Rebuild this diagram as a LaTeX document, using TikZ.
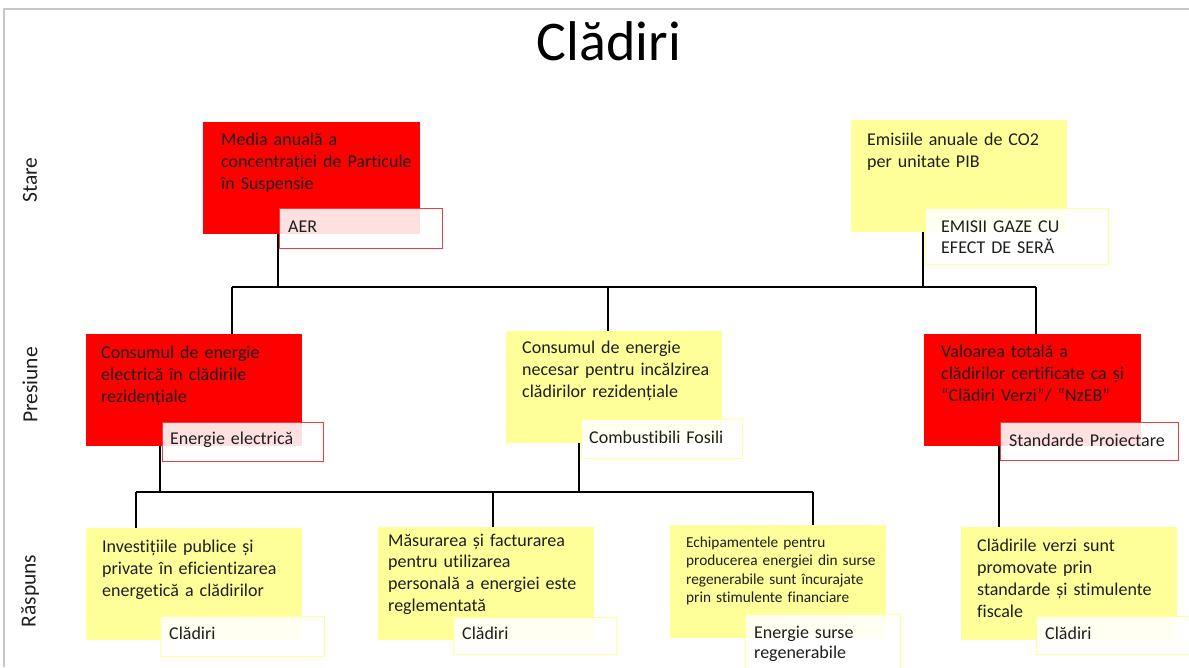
\documentclass[tikz,border=0pt]{standalone}
\usepackage{fontspec}
\setmainfont{Carlito}[Ligatures=NoCommon]
\usetikzlibrary{backgrounds}
\definecolor{boxred}{HTML}{FF0000}
\definecolor{boxyel}{HTML}{FFFF99}
\definecolor{tagred}{HTML}{F03C3C}
\definecolor{tagyel}{HTML}{FFFF9C}
\definecolor{framegray}{HTML}{C6C6C6}
\definecolor{ink}{HTML}{1E1E1E}
\begin{document}
\begin{tikzpicture}[x=1pt,y=-1pt,
  box/.style={anchor=north west, inner sep=0pt, outer sep=0pt, draw=none},
  redbox/.style={box, fill=boxred},
  yelbox/.style={box, fill=boxyel},
  tagbase/.style={anchor=north west, inner sep=0pt, outer sep=0pt, fill=white, fill opacity=0.88, line width=1pt},
  redtag/.style={tagbase, draw=tagred},
  yeltag/.style={tagbase, draw=tagyel},
  txt/.style={anchor=base west, inner sep=0pt, text=ink, text width=260pt, align=left, font=\fontsize{18}{22}\selectfont},
  smalltxt/.style={txt, font=\fontsize{15.3}{18.5}\selectfont},
  tagtxt/.style={txt, font=\fontsize{18}{21}\selectfont},
  side/.style={rotate=90, inner sep=0pt, text=ink, font=\fontsize{21.5}{24}\selectfont},
  conn/.style={draw=black, line width=1.8pt}
]
\useasboundingbox (0,0) rectangle (1189,667);
\draw[framegray, line width=2pt] (3.5,667) -- (3.5,8.5) -- (1189,8.5);

\node[anchor=base, inner sep=0pt, text=black, font=\fontsize{56}{60}\selectfont] (title) at (609,60) {Clădiri};

\node[side] (lstare) at (30,180) {Stare};
\node[side] (lpres) at (30,385) {Presiune};
\node[side] (lrasp) at (30,591) {Răspuns};

% boxes
\node[redbox, minimum width=217pt, minimum height=112pt] (b1) at (203,122) {};
\node[yelbox, minimum width=216pt, minimum height=112pt] (b2) at (851,120) {};
\node[redbox, minimum width=216pt, minimum height=112pt] (b3) at (86,334) {};
\node[yelbox, minimum width=216pt, minimum height=112pt] (b4) at (506,331) {};
\node[redbox, minimum width=217pt, minimum height=112pt] (b5) at (924,334) {};
\node[yelbox, minimum width=216pt, minimum height=112pt] (b6) at (86,528) {};
\node[yelbox, minimum width=216pt, minimum height=113pt] (b7) at (378,527) {};
\node[yelbox, minimum width=216pt, minimum height=113pt] (b8) at (670,525) {};
\node[yelbox, minimum width=216pt, minimum height=113pt] (b9) at (961,527) {};

% box texts
\node[txt] (x1) at (221,145) {Media anuală a\\concentrației de Particule\\în Suspensie};
\node[txt] (x2) at (867,145) {Emisiile anuale de CO2\\per unitate PIB};
\node[txt] (x3) at (101,358) {Consumul de energie\\electrică în clădirile\\rezidențiale};
\node[txt] (x4) at (522,353) {Consumul de energie\\necesar pentru incălzirea\\clădirilor rezidențiale};
\node[txt] (x5) at (941,357) {Valoarea totală a\\clădirilor certificate ca și\\“Clădiri Verzi”/ “NzEB”};
\node[txt] (x6) at (102,552) {Investițiile publice și\\private în eficientizarea\\energetică a clădirilor};
\node[txt, font=\fontsize{18}{21.7}\selectfont] (x7) at (388,546) {Măsurarea și facturarea\\pentru utilizarea\\personală a energiei este\\reglementată};
\node[smalltxt] (x8) at (686,547) {Echipamentele pentru\\producerea energiei din surse\\regenerabile sunt încurajate\\prin stimulente financiare};
\node[txt] (x9) at (977,551) {Clădirile verzi sunt\\promovate prin\\standarde și stimulente\\fiscale};

% tags
\node[redtag, minimum width=163pt, minimum height=40pt] (t1) at (279,208) {};
\node[yeltag, minimum width=183pt, minimum height=56pt] (t2) at (925,208) {};
\node[redtag, minimum width=161pt, minimum height=39pt] (t3) at (162,422) {};
\node[yeltag, minimum width=161pt, minimum height=39pt] (t4) at (581,419) {};
\node[redtag, minimum width=178pt, minimum height=38pt] (t5) at (1000,422) {};
\node[yeltag, minimum width=164pt, minimum height=40pt] (t6) at (160,616) {};
\node[yeltag, minimum width=163pt, minimum height=37pt] (t7) at (453,617) {};
\node[yeltag, minimum width=155pt, minimum height=60pt] (t8) at (745,614) {};
\node[yeltag, minimum width=160pt, minimum height=38pt] (t9) at (1036,616) {};

% tag texts
\node[tagtxt] (y1) at (288,232) {AER};
\node[tagtxt] (y2) at (941,232) {EMISII GAZE CU\\EFECT DE SERĂ};
\node[tagtxt] (y3) at (170,444) {Energie electrică};
\node[tagtxt] (y4) at (589,443) {Combustibili Fosili};
\node[tagtxt] (y5) at (1009,446) {Standarde Proiectare};
\node[tagtxt] (y6) at (169,639) {Clădiri};
\node[tagtxt] (y7) at (462,639) {Clădiri};
\node[tagtxt, font=\fontsize{18}{20}\selectfont] (y8) at (754,638) {Energie surse\\regenerabile};
\node[tagtxt] (y9) at (1045,639) {Clădiri};

% connectors
\coordinate (h1) at (0,287);
\coordinate (h2) at (0,492);
\coordinate (d3) at (232,287);
\coordinate (d4) at (608,287);
\coordinate (d5) at (1036,287);
\coordinate (d6) at (136,492);
\coordinate (d7) at (493,492);
\coordinate (d8) at (813,492);
\begin{pgfonlayer}{background}
\draw[conn] ([xshift=-1pt]t1.west |- b1.south) -- ([xshift=-1pt]t1.west |- h1);
\draw[conn] ([xshift=-2pt]t2.west |- b2.south) -- ([xshift=-2pt]t2.west |- h1);
\draw[conn] (d3) -- (d5);
\draw[conn] (d3) -- (d3 |- b3.north);
\draw[conn] (d4) -- (d4 |- b4.north);
\draw[conn] (d5) -- (d5 |- b5.north);
\draw[conn] ([xshift=-2pt]t3.west |- b3.south) -- ([xshift=-2pt]t3.west |- h2);
\draw[conn] ([xshift=-2pt]t4.west |- b4.south) -- ([xshift=-2pt]t4.west |- h2);
\draw[conn] (d6) -- (d8);
\draw[conn] (d6) -- (d6 |- b6.north);
\draw[conn] (d7) -- (d7 |- b7.north);
\draw[conn] (d8) -- (d8 |- b8.north);
\draw[conn] ([xshift=-1pt]t5.west |- b5.south) -- ([xshift=-1pt]t5.west |- b9.north);
\end{pgfonlayer}
\end{tikzpicture}
\end{document}
